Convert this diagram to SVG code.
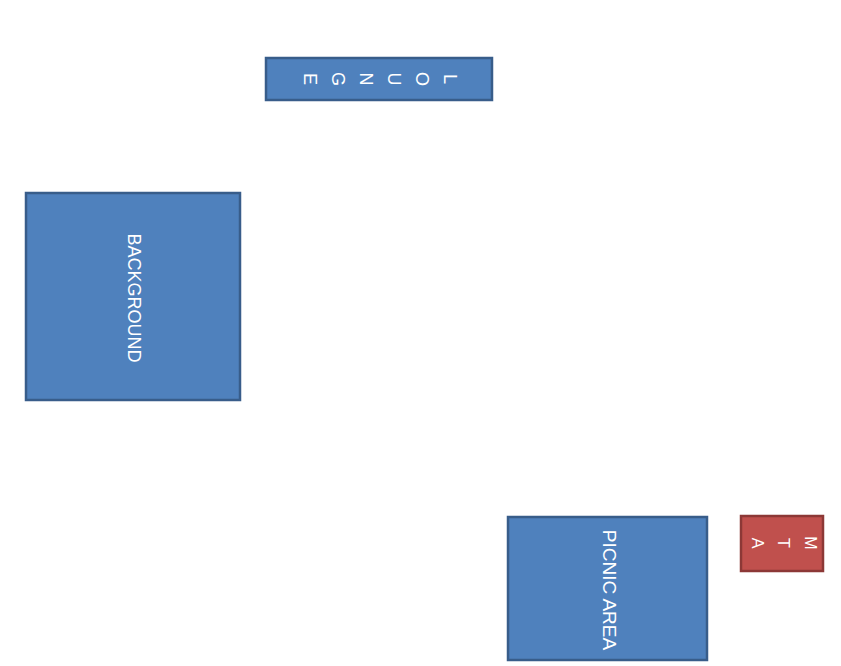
<svg xmlns="http://www.w3.org/2000/svg" width="841" height="666" viewBox="0 0 841 666">
<style>
.blue{fill:#4F81BD;stroke:#385D8A;stroke-width:2.5}
.red{fill:#C0504D;stroke:#8C3836;stroke-width:2.5}
.lbl{fill:#FFFFFF;font-family:"Liberation Sans",Arial,sans-serif;text-anchor:middle;dominant-baseline:central}
</style>
<rect width="841" height="666" fill="#FFFFFF"/>
<g id="connectors"></g>
<g id="lounge">
<rect class="blue" x="266" y="58" width="226" height="42"/>
<text class="lbl" font-size="18" transform="translate(450,79) rotate(90)"><tspan x="0" y="0">L</tspan><tspan x="0" y="28">O</tspan><tspan x="0" y="56">U</tspan><tspan x="0" y="84">N</tspan><tspan x="0" y="112">G</tspan><tspan x="0" y="140">E</tspan></text>
</g>
<g id="background">
<rect class="blue" x="26" y="193" width="214" height="207"/>
<text class="lbl" font-size="18" transform="translate(134,298) rotate(90)">BACKGROUND</text>
</g>
<g id="picnic-area">
<rect class="blue" x="508" y="517" width="199" height="143"/>
<text class="lbl" font-size="19" transform="translate(609,590) rotate(90)">PICNIC AREA</text>
</g>
<g id="atm">
<rect class="red" x="741" y="516" width="82" height="55"/>
<text class="lbl" font-size="16" transform="translate(811,543) rotate(90)"><tspan x="0" y="53">A</tspan><tspan x="0" y="27">T</tspan><tspan x="0" y="0">M</tspan></text>
</g>
</svg>
